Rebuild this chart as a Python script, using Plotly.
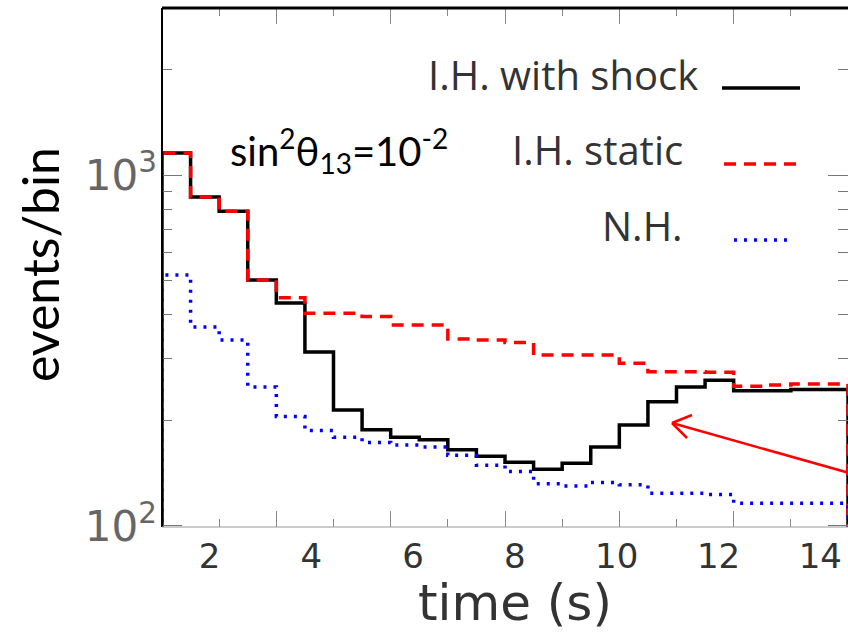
import plotly.graph_objects as go

# ---- data ----
time_edges = [2.0, 2.5, 3.0, 3.5, 4.0, 4.5, 5.0, 5.5, 6.0, 6.5, 7.0, 7.5, 8.0,
              8.5, 9.0, 9.5, 10.0, 10.5, 11.0, 11.5, 12.0, 12.5, 13.0, 13.5, 14.0]
ih_shock = [1155, 866, 789, 502, 432, 313, 214, 188, 179, 176, 165, 158,
            152, 145, 151, 168, 194, 226, 249, 260, 243, 243, 245, 245]
ih_static = [1155, 866, 789, 502, 447, 404, 404, 395, 374, 374, 341, 339,
             333, 307, 307, 307, 291, 275, 275, 274, 250, 252, 254, 254]
nh = [519, 369, 339, 249, 205, 187, 179, 173, 170, 168, 159, 149,
      143, 132, 130, 133, 131, 124, 124, 123, 116, 116, 116, 116]
x_tick_labels = ["2", "4", "6", "8", "10", "12", "14"]
x_label_vals = [2, 4, 6, 8, 10, 12, 14]
series_names = ["I.H. with shock", "I.H. static", "N.H."]

W, H = 848, 633
L, R, T, B = 162, 0, 8, 106
PW, PH = W - L - R, H - T - B
FLOOR = 50  # below the axis, so histograms start/end at the frame


def px(xp):
    return (xp - L) / PW


def py(yp):
    return (H - B - yp) / PH


def steps(vals):
    xs = [time_edges[0]] + time_edges + [time_edges[-1]]
    ys = [FLOOR] + list(vals) + [vals[-1], FLOOR]
    return xs, ys


fig = go.Figure()
styles = [
    dict(color="black", width=3.5, dash="solid"),
    dict(color="#ff0000", width=3.5, dash="12px,8px"),
    dict(color="#0000ff", width=3.5, dash="3px,7px"),
]
for name, vals, st in zip(series_names, [ih_shock, ih_static, nh], styles):
    xs, ys = steps(vals)
    fig.add_trace(go.Scatter(x=xs, y=ys, mode="lines", name=name,
                             line=dict(shape="hv", **st), showlegend=False,
                             xaxis="x", yaxis="y"))

xtick_font = dict(family="DejaVu Sans, sans-serif", size=34, color="#333")
ytick_font = dict(family="DejaVu Sans, sans-serif", size=42, color="#666")

fig.update_layout(
    width=W, height=H,
    margin=dict(l=L, r=R, t=T, b=B),
    paper_bgcolor="white", plot_bgcolor="white",
    xaxis=dict(range=[2, 14], showticklabels=False, showline=False, showgrid=False,
               zeroline=False, ticks="inside", tickvals=[4, 6, 8, 10, 12],
               ticklen=16, tickwidth=1.2, tickcolor="#888", mirror="ticks",
               minor=dict(ticks="inside", tickvals=[3, 5, 7, 9, 11, 13],
                          ticklen=8, tickwidth=1.2, tickcolor="#888")),
    xaxis2=dict(range=[1.067, 14.544], overlaying="x", anchor="y", side="bottom",
                tickvals=x_label_vals, ticktext=x_tick_labels, ticks="",
                showgrid=False, zeroline=False, showline=False,
                tickfont=xtick_font, ticklabelstandoff=6),
    yaxis=dict(type="log", range=[1.997, 3.476], showgrid=False, zeroline=False,
               showline=False, ticks="inside", mirror="ticks",
               tickvals=[100, 1000], ticktext=["10<sup>2</sup>", "10<sup>3</sup>"],
               ticklen=20, tickwidth=1.2, tickcolor="#777",
               tickfont=ytick_font, ticklabelstandoff=4,
               minor=dict(ticks="inside",
                          tickvals=[200, 300, 400, 500, 600, 700, 800, 900, 2000, 3000],
                          ticklen=10, tickwidth=1.2, tickcolor="#777")),
)

# an invisible marker so the label axis (xaxis2) is active
fig.add_trace(go.Scatter(x=[x_label_vals[0]], y=[1000], xaxis="x2", yaxis="y",
                         mode="markers", marker=dict(opacity=0), showlegend=False,
                         hoverinfo="skip"))

shapes = [
    # frame
    dict(type="line", xref="paper", yref="paper", x0=0, x1=1.02, y0=1, y1=1,
         line=dict(color="black", width=3)),
    dict(type="line", xref="paper", yref="paper", x0=0, x1=0, y0=0, y1=1,
         line=dict(color="black", width=2)),
    dict(type="line", xref="paper", yref="paper", x0=0, x1=1.02, y0=0, y1=0,
         line=dict(color="#999", width=1)),
    # legend samples
    dict(type="line", xref="paper", yref="paper", x0=px(722), x1=px(800), y0=py(88), y1=py(88),
         line=dict(color="black", width=3.5)),
    dict(type="line", xref="paper", yref="paper", x0=px(724), x1=px(802), y0=py(164), y1=py(164),
         line=dict(color="#ff0000", width=3.5, dash="12px,8px")),
    dict(type="line", xref="paper", yref="paper", x0=px(734), x1=px(794), y0=py(240), y1=py(240),
         line=dict(color="#0000ff", width=3.5, dash="3px,7px")),
    # red arrow
    dict(type="line", xref="paper", yref="paper", x0=px(672), x1=px(860), y0=py(423), y1=py(476),
         line=dict(color="#ff0000", width=2.5)),
    dict(type="line", xref="paper", yref="paper", x0=px(672), x1=px(692), y0=py(423), y1=py(415),
         line=dict(color="#ff0000", width=2.5)),
    dict(type="line", xref="paper", yref="paper", x0=px(672), x1=px(687), y0=py(423), y1=py(438),
         line=dict(color="#ff0000", width=2.5)),
]
fig.update_layout(shapes=shapes)

leg_font = dict(family="Open Sans, sans-serif", size=40, color="#333")
annotations = [
    dict(text=series_names[0], x=px(700), y=py(74), xanchor="right", yanchor="middle",
         xref="paper", yref="paper", showarrow=False, font=leg_font),
    dict(text=series_names[1], x=px(685), y=py(149), xanchor="right", yanchor="middle",
         xref="paper", yref="paper", showarrow=False, font=leg_font),
    dict(text=series_names[2], x=px(685), y=py(225), xanchor="right", yanchor="middle",
         xref="paper", yref="paper", showarrow=False, font=leg_font),
    dict(text="sin<sup>2</sup>θ<sub>13</sub>=10<sup>-2</sup>", x=px(228), y=py(150),
         xanchor="left", yanchor="middle", xref="paper", yref="paper", showarrow=False,
         font=dict(family="Lato, Open Sans, sans-serif", size=40, color="black")),
    dict(text="events/bin", x=px(40), y=py(265), xanchor="center", yanchor="middle",
         textangle=-90, xref="paper", yref="paper", showarrow=False,
         font=dict(family="Lato, Open Sans, sans-serif", size=50, color="black")),
    dict(text="time (s)", x=px(515), y=py(603), xanchor="center", yanchor="middle",
         xref="paper", yref="paper", showarrow=False,
         font=dict(family="DejaVu Sans, sans-serif", size=50, color="#333")),
]
fig.update_layout(annotations=annotations)

fig.write_html("out.html")
